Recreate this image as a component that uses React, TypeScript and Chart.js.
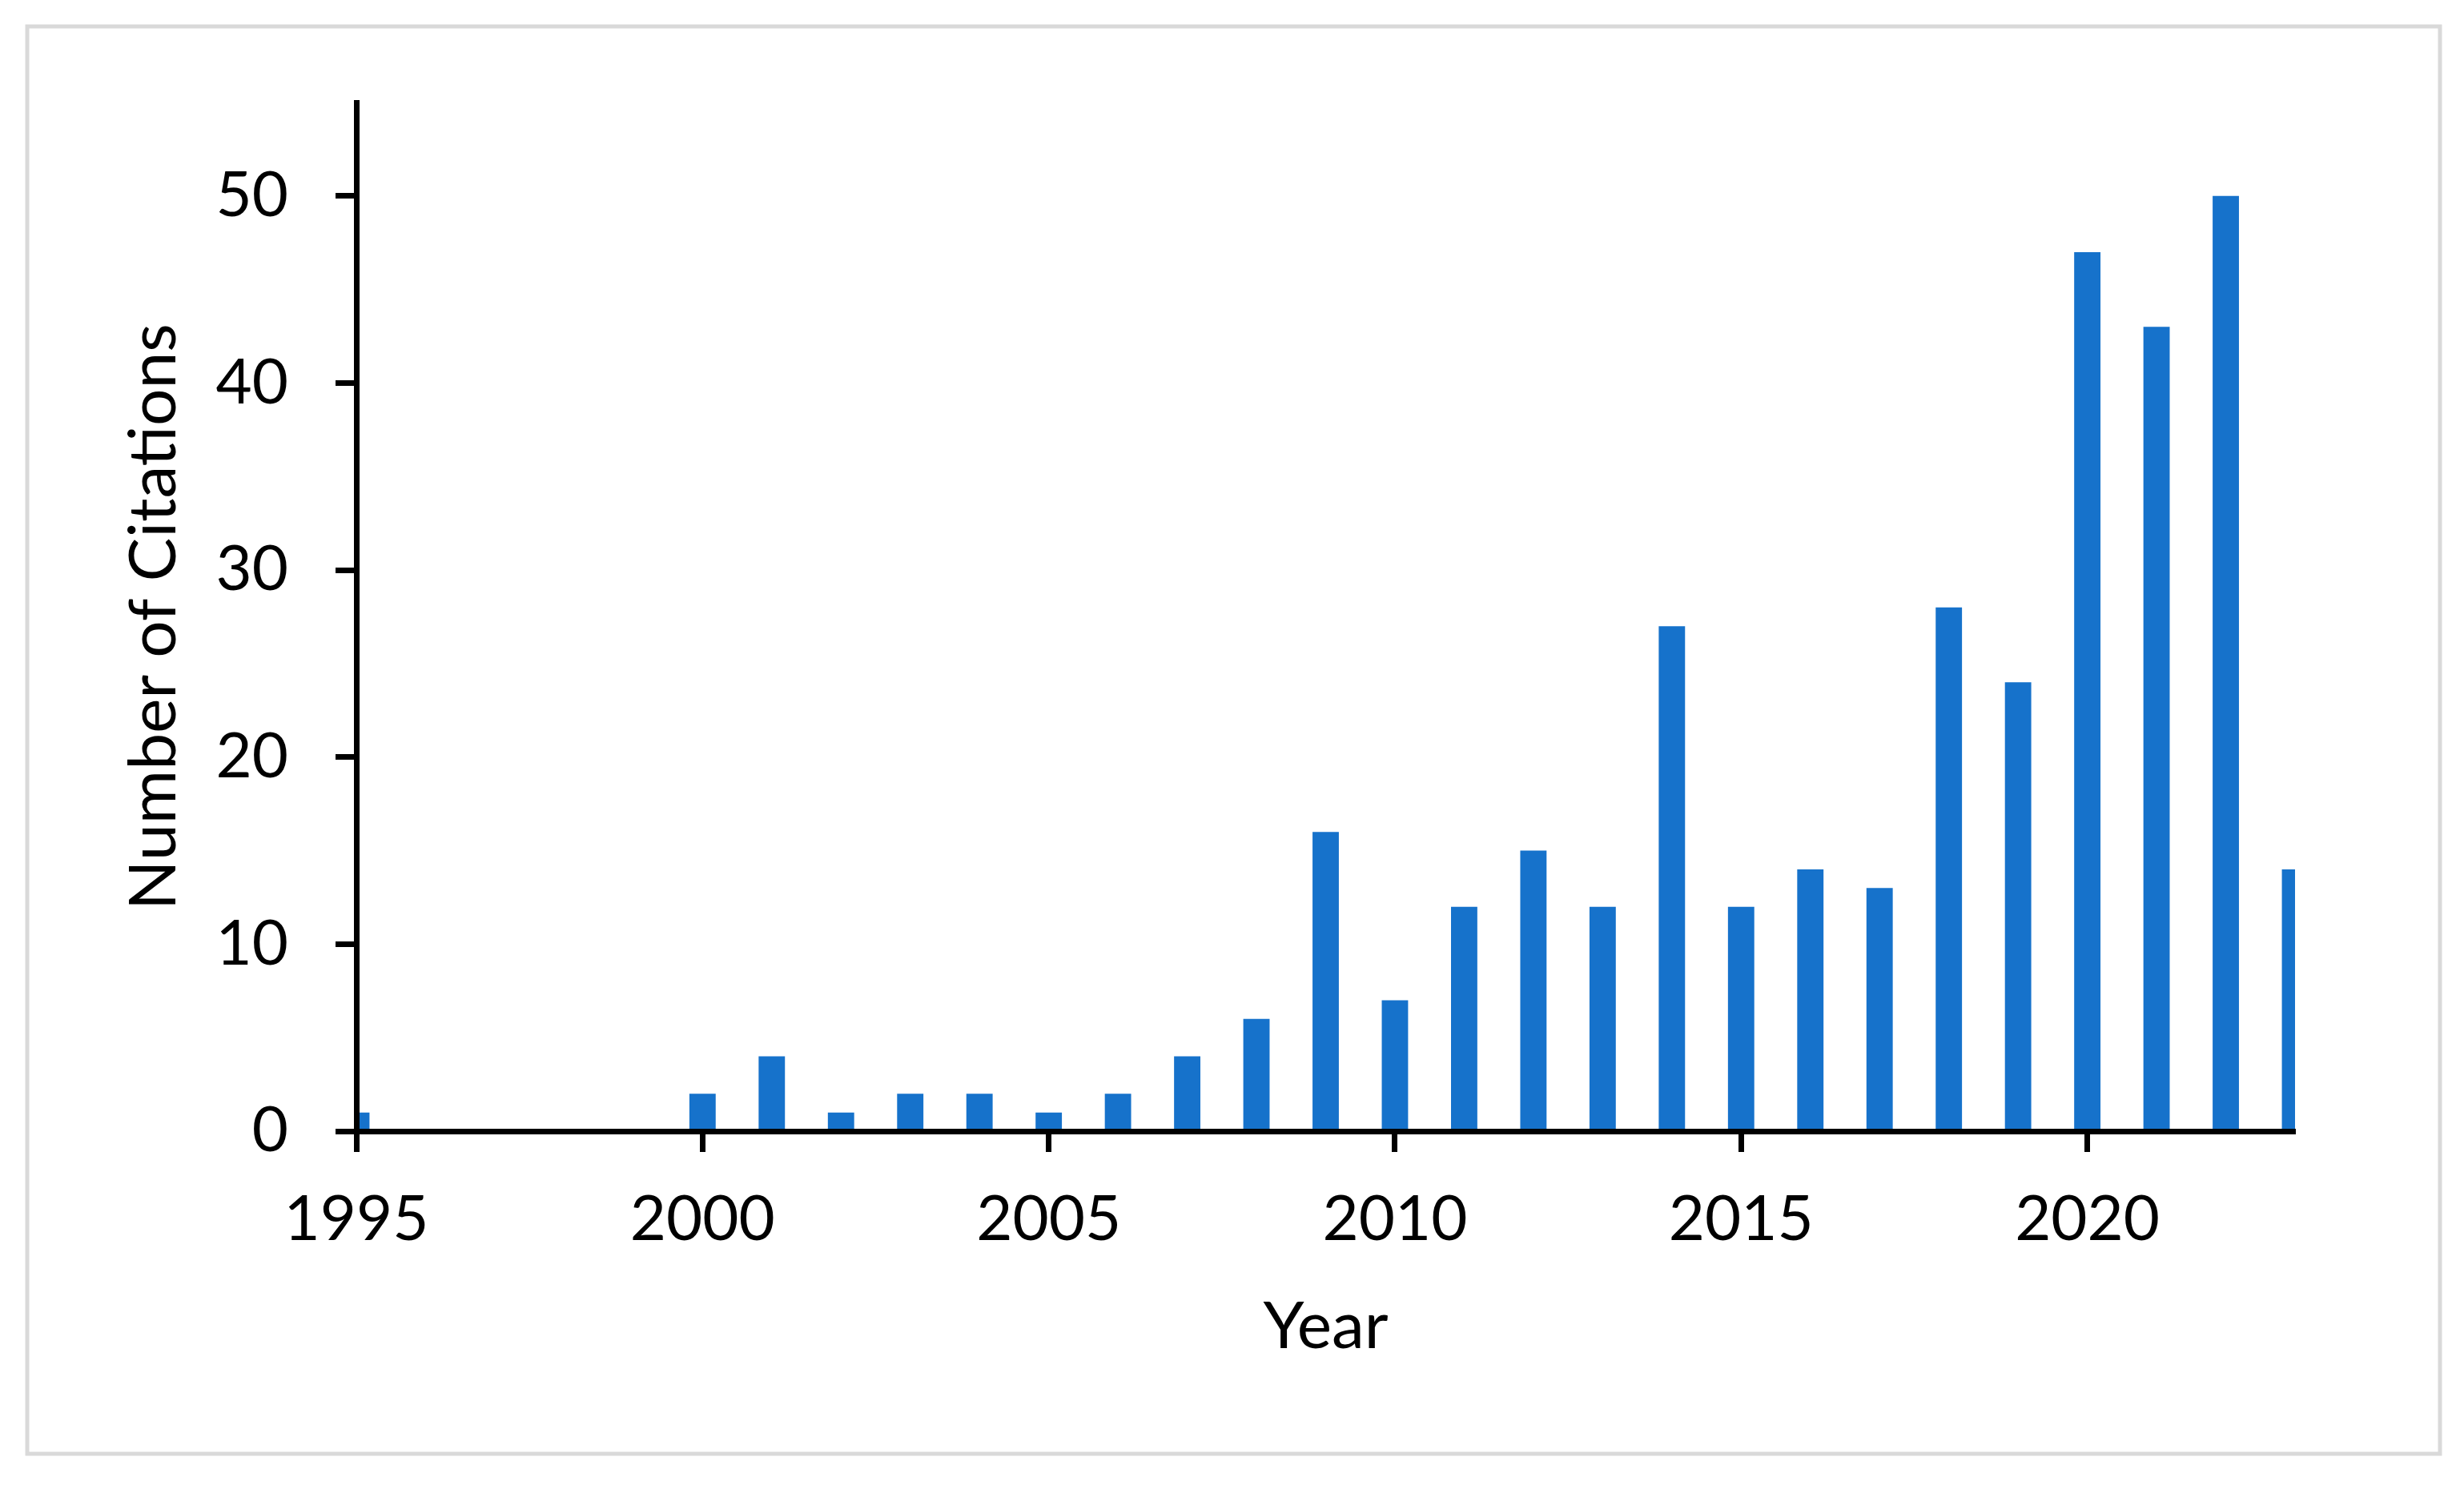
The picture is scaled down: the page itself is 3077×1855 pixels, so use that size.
import React, { useEffect, useRef } from "react";
import { Chart, registerables } from "chart.js";

Chart.register(...registerables);

const years = [
  1995, 1996, 1997, 1998, 1999, 2000, 2001, 2002, 2003, 2004, 2005, 2006, 2007, 2008, 2009,
  2010, 2011, 2012, 2013, 2014, 2015, 2016, 2017, 2018, 2019, 2020, 2021, 2022, 2023,
];
const citations = [
  1, 0, 0, 0, 0, 2, 4, 1, 2, 2, 1, 2, 4, 6, 16,
  7, 12, 15, 12, 27, 12, 14, 13, 28, 24, 47, 43, 50, 14,
];
const xMin = 1995;
const xMax = 2023;
const xTickStep = 5;
const yMin = 0;
const yMax = 55;
const yTickStep = 10;
const xTitle = "Year";
const yTitle = "Number of Citations";

const W = 3077;
const H = 1855;
const FONT = "Lato, 'Open Sans', sans-serif";
const BAR_COLOR = "#1672CB";
const AXIS_W = 7;

const framePlugin = {
  id: "frame",
  beforeDraw(chart: any) {
    const ctx = chart.ctx;
    ctx.save();
    ctx.fillStyle = "#ffffff";
    ctx.fillRect(0, 0, chart.width, chart.height);
    ctx.strokeStyle = "#d9d9d9";
    ctx.lineWidth = 5;
    ctx.strokeRect(34, 33, 3013, 1783);
    ctx.restore();
  },
};

export default function App() {
  const canvasRef = useRef<HTMLCanvasElement | null>(null);

  useEffect(() => {
    if (!canvasRef.current) return;
    const chart = new Chart(canvasRef.current, {
      type: "bar",
      data: {
        datasets: [
          {
            label: yTitle,
            data: years.map((yr, i) => ({ x: yr, y: citations[i] })),
            backgroundColor: BAR_COLOR,
            borderWidth: 0,
            barPercentage: 0.38,
            categoryPercentage: 1,
            clip: 0,
          } as any,
        ],
      },
      options: {
        animation: false,
        responsive: false,
        maintainAspectRatio: false,
        devicePixelRatio: 1,
        layout: { padding: { left: 0, top: 128, right: W - 2866, bottom: 0 } },
        plugins: {
          legend: { display: false },
          tooltip: { enabled: false },
        },
        scales: {
          x: {
            type: "linear",
            position: "bottom",
            min: xMin,
            max: xMax,
            offset: false,
            afterFit(scale: any) {
              scale.height = H - 1413;
            },
            ticks: {
              stepSize: xTickStep,
              includeBounds: false,
              padding: 38,
              color: "#000",
              font: { family: FONT, size: 78 },
              maxRotation: 0,
              autoSkip: false,
              callback: (v: any) => String(v),
            },
            grid: {
              offset: false,
              drawOnChartArea: false,
              drawTicks: true,
              tickLength: 26,
              tickWidth: AXIS_W,
              tickColor: "#000",
              color: "#000",
            },
            border: { display: true, color: "#000", width: AXIS_W, z: 1 },
            title: {
              display: true,
              text: xTitle,
              color: "#000",
              font: { family: FONT, size: 82 },
              padding: { top: 0, bottom: 148 },
            },
          } as any,
          y: {
            type: "linear",
            position: "left",
            min: yMin,
            max: yMax,
            afterFit(scale: any) {
              scale.width = 445;
            },
            ticks: {
              stepSize: yTickStep,
              includeBounds: false,
              padding: 59,
              color: "#000",
              font: { family: FONT, size: 78 },
            },
            grid: {
              drawOnChartArea: false,
              drawTicks: true,
              tickLength: 26,
              tickWidth: AXIS_W,
              tickColor: "#000",
              color: "#000",
            },
            border: { display: true, color: "#000", width: AXIS_W, z: 1 },
            title: {
              display: true,
              text: yTitle,
              color: "#000",
              font: { family: FONT, size: 82 },
              padding: { top: 143, bottom: 0 },
            },
          } as any,
        },
      },
      plugins: [framePlugin],
    });
    return () => chart.destroy();
  }, []);

  return (
    <div style={{ position: "absolute", left: 0, top: 0, width: W, height: H, background: "#fff" }}>
      <canvas ref={canvasRef} width={W} height={H} style={{ display: "block" }} />
    </div>
  );
}
